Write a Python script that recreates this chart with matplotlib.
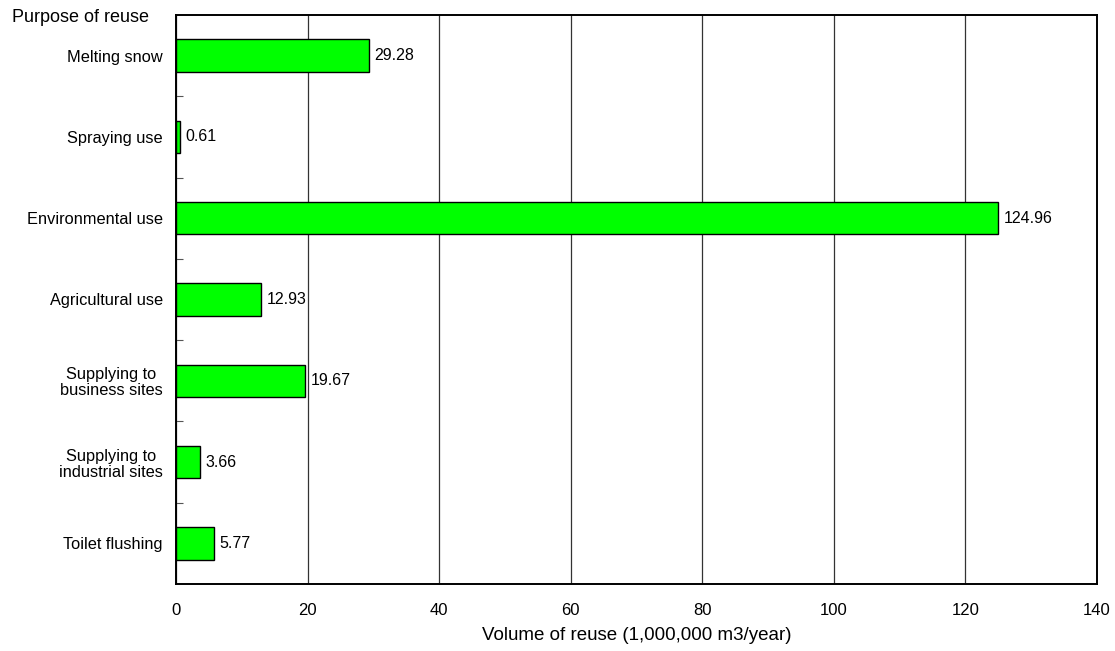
import matplotlib
matplotlib.use("Agg")
import matplotlib.pyplot as plt
from matplotlib.ticker import FixedLocator

plt.rcParams['font.family'] = ['Liberation Sans', 'DejaVu Sans']

categories = ["Melting snow", "Spraying use", "Environmental use", "Agricultural use",
              "Supplying to\nbusiness sites", "Supplying to\nindustrial sites", "Toilet flushing"]
volumes = [29.28, 0.61, 124.96, 12.93, 19.67, 3.66, 5.77]
value_labels = ["29.28", "0.61", "124.96", "12.93", "19.67", "3.66", "5.77"]
x_ticks = [0, 20, 40, 60, 80, 100, 120, 140]

fig = plt.figure(figsize=(11.15, 6.51), dpi=100)
ax = fig.add_axes([0.1578, 0.1029, 0.9839 - 0.1578, 0.977 - 0.1029])

n = len(categories)
ypos = list(range(n))
ax.barh(ypos, volumes, height=0.4, color="#00ff00", edgecolor="black", linewidth=1.0, zorder=3)

for y, v, lab in zip(ypos, volumes, value_labels):
    ax.annotate(lab, (v, y), xytext=(4, 0), textcoords="offset points",
                ha="left", va="center", fontsize=11.5, zorder=4)

ax.set_xlim(0, 140)
ax.set_ylim(n - 0.5, -0.5)
ax.set_xticks(x_ticks)
ax.set_xticklabels([str(t) for t in x_ticks], fontsize=12)
ax.tick_params(axis="x", length=0, pad=13.5)

ax.set_yticks(ypos)
ax.set_yticklabels(categories, fontsize=11.8, ha="right", multialignment="center",
                   linespacing=1.1)
ax.tick_params(axis="y", which="major", length=0, pad=9.5)
ax.yaxis.set_minor_locator(FixedLocator([i + 0.5 for i in range(n - 1)]))
ax.tick_params(axis="y", which="minor", direction="in", length=5, width=0.8, color="#555555")

ax.grid(axis="x", color="#333333", linewidth=0.9, zorder=0)
for s in ax.spines.values():
    s.set_linewidth(1.4)
    s.set_color("black")

ax.set_xlabel("Volume of reuse (1,000,000 m3/year)", fontsize=13.5, labelpad=7)
fig.text(12 / 1115, 1 - 17 / 651, "Purpose of reuse", fontsize=13, ha="left", va="center")

fig.savefig("out.png", dpi=100)
